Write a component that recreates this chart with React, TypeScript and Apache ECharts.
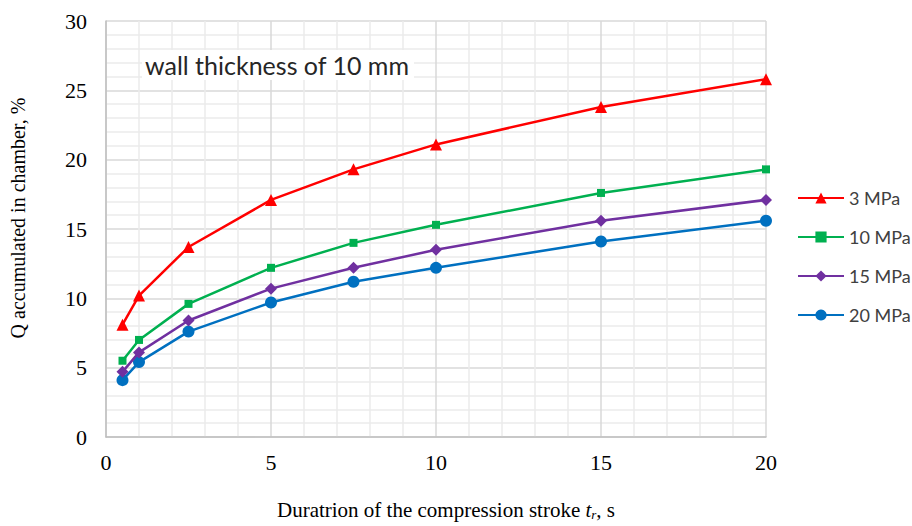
import React, { useEffect, useRef } from "react";
import * as echarts from "echarts";

const xValues = [0.5, 1, 2.5, 5, 7.5, 10, 15, 20];
const seriesNames = ["3 MPa", "10 MPa", "15 MPa", "20 MPa"];
const mpa3 = [8.1, 10.2, 13.7, 17.1, 19.3, 21.1, 23.8, 25.8];
const mpa10 = [5.5, 7.0, 9.6, 12.2, 14.0, 15.3, 17.6, 19.3];
const mpa15 = [4.7, 6.1, 8.4, 10.7, 12.2, 13.5, 15.6, 17.1];
const mpa20 = [4.1, 5.4, 7.6, 9.7, 11.2, 12.2, 14.1, 15.6];
const annotation = "wall thickness of 10 mm";

export default function App() {
  const ref = useRef<HTMLDivElement>(null);
  useEffect(() => {
    if (!ref.current) return;
    const chart = echarts.init(ref.current, undefined, { renderer: "svg" });
    const values = [mpa3, mpa10, mpa15, mpa20];
    const colors = ["#ff0000", "#00b050", "#7030a0", "#0070c0"];
    const symbols = ["triangle", "rect", "diamond", "circle"];
    const sizes = [12, 8, 12, 12];
    const series = seriesNames.map((name, i) => ({
      name,
      type: "line",
      data: xValues.map((x, j) => [x, values[i][j]]),
      symbol: symbols[i],
      symbolSize: sizes[i],
      showAllSymbol: true,
      itemStyle: { color: colors[i] },
      lineStyle: { color: colors[i], width: 2.5 },
      z: 10 - i,
    }));
    chart.setOption({
      animation: false,
      backgroundColor: "#ffffff",
      grid: { left: 102, right: 146, top: 21, bottom: 81, containLabel: false },
      xAxis: {
        type: "value",
        min: 0,
        max: 20,
        interval: 5,
        axisLine: { show: true, lineStyle: { color: "#bfbfbf", width: 1.5 } },
        axisTick: { show: false },
        minorTick: { show: false, splitNumber: 5 },
        splitLine: { show: true, lineStyle: { color: "#d9d9d9", width: 1.5 } },
        minorSplitLine: { show: true, lineStyle: { color: "#ebebeb", width: 1.5 } },
        axisLabel: {
          color: "#000000",
          fontFamily: "Liberation Serif",
          fontSize: 22,
          margin: 14,
        },
        name: "{n|Duratrion of the compression stroke }{i|t}{s|r}{n|, s}",
        nameLocation: "middle",
        nameGap: 61,
        nameTextStyle: {
          padding: [0, 0, 0, 20],
          rich: {
            n: { fontFamily: "Liberation Serif", fontSize: 21, color: "#000000" },
            i: { fontFamily: "Liberation Serif", fontStyle: "italic", fontSize: 21, color: "#000000" },
            s: { fontFamily: "Liberation Serif", fontStyle: "italic", fontSize: 13, color: "#000000", verticalAlign: "bottom", padding: [10, 0, 0, 0] },
          },
        },
      },
      yAxis: {
        type: "value",
        min: 0,
        max: 30,
        interval: 5,
        axisLine: { show: true, lineStyle: { color: "#bfbfbf", width: 1.5 } },
        axisTick: { show: false },
        minorTick: { show: false, splitNumber: 5 },
        splitLine: { show: true, lineStyle: { color: "#d9d9d9", width: 1.5 } },
        minorSplitLine: { show: true, lineStyle: { color: "#ebebeb", width: 1.5 } },
        axisLabel: {
          color: "#000000",
          fontFamily: "Liberation Serif",
          fontSize: 22,
          margin: 19,
        },
        name: "Q accumulated in chamber, %",
        nameLocation: "middle",
        nameGap: 78,
        nameTextStyle: {
          fontFamily: "Liberation Serif",
          fontSize: 20,
          color: "#000000",
          padding: [0, 0, 0, 22],
        },
      },
      legend: {
        orient: "vertical",
        left: 797,
        top: 189,
        padding: 0,
        itemWidth: 46,
        itemHeight: 14,
        itemGap: 21,
        data: seriesNames,
        textStyle: { fontFamily: "Lato", fontSize: 18, color: "#404040" },
      },
      graphic: [
        {
          type: "rect",
          left: 142,
          top: 50,
          shape: { width: 272, height: 30 },
          style: { fill: "#ffffff" },
          z: 5,
        },
        {
          type: "text",
          x: 145,
          y: 65,
          style: {
            text: annotation,
            fontFamily: "Lato",
            fontSize: 25,
            fill: "#262626",
            verticalAlign: "middle",
          },
          z: 6,
        },
      ],
      series,
    });
    return () => chart.dispose();
  }, []);
  return (
    <div
      ref={ref}
      style={{ position: "fixed", left: 0, top: 0, width: 912, height: 526 }}
    />
  );
}
